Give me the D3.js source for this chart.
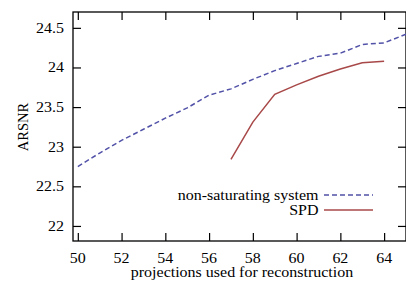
<!DOCTYPE html>
<html>
<head>
<meta charset="utf-8">
<script src="https://cdn.jsdelivr.net/npm/d3@7"></script>
</head>
<body style="margin:0;background:#fff">
<svg id="chart" width="406" height="281"></svg>
<script>
// data
const xTicks = [50, 52, 54, 56, 58, 60, 62, 64];
const yTicks = [22, 22.5, 23, 23.5, 24, 24.5];

const nonSatX = [50, 51, 52, 53, 54, 55, 56, 57, 58, 59, 60, 61, 62, 63, 64, 65];
const nonSatY = [22.75, 22.92, 23.08, 23.22, 23.36, 23.49, 23.65, 23.73, 23.85, 23.96, 24.05, 24.14, 24.18, 24.29, 24.31, 24.42];

const spdX = [57, 58, 59, 60, 61, 62, 63, 64];
const spdY = [22.84, 23.31, 23.66, 23.78, 23.89, 23.98, 24.06, 24.08];

const margin = {left: 73, top: 12, right: 0, bottom: 40};
const width = 406, height = 281;
const FONT = '"Liberation Serif", "Times New Roman", Times, serif';
const blue = '#5252a8', red = '#a84848';

const svg = d3.select('#chart')
    .attr('font-family', FONT)
    .attr('font-size', 16);

// the reference is a bit stretched sideways, so text is squashed vertically
function label (x, y, str, anchor) {
    return svg.append('text')
        .attr('transform', `translate(${x},${y}) scale(1,0.87)`)
        .attr('text-anchor', anchor)
        .attr('fill', '#000')
        .text(str);
}

const x = d3.scaleLinear().domain([49.78, 65]).range([margin.left, width - margin.right]);
const y = d3.scaleLinear().domain([21.81, 24.7]).range([height - margin.bottom, margin.top]);

const tick = 8;

// axes (ticks point inward, mirrored on all four sides)
const axes = [
    [d3.axisBottom(x).tickValues(xTicks), `translate(0,${height - margin.bottom})`],
    [d3.axisTop(x).tickValues(xTicks), `translate(0,${margin.top})`],
    [d3.axisLeft(y).tickValues(yTicks), `translate(${margin.left},0)`],
    [d3.axisRight(y).tickValues(yTicks), `translate(${width - margin.right},0)`]
];
axes.forEach(([ax, tr]) => {
    const g = svg.append('g').attr('transform', tr).call(ax.tickSize(-tick).tickFormat(''));
    g.attr('font-family', null).attr('font-size', null);
    g.select('.domain').remove();
    g.selectAll('text').remove();
    g.selectAll('line').attr('stroke', '#000').attr('stroke-width', 1.2);
});

xTicks.forEach(v => label(x(v), 262.5, d3.format('d')(v), 'middle'));
yTicks.forEach(v => label(64, y(v) + 4.8, v, 'end'));

// frame
svg.append('rect')
    .attr('x', margin.left)
    .attr('y', margin.top)
    .attr('width', width - margin.right - margin.left)
    .attr('height', height - margin.bottom - margin.top)
    .attr('fill', 'none')
    .attr('stroke', '#000')
    .attr('stroke-width', 1.3);

const line = d3.line().x(d => x(d[0])).y(d => y(d[1]));

svg.append('path')
    .attr('d', line(d3.zip(nonSatX, nonSatY)))
    .attr('fill', 'none')
    .attr('stroke', blue)
    .attr('stroke-width', 1.5)
    .attr('stroke-dasharray', '5,3');

svg.append('path')
    .attr('d', line(d3.zip(spdX, spdY)))
    .attr('fill', 'none')
    .attr('stroke', red)
    .attr('stroke-width', 1.5);

// legend
const legend = [
    {label: 'non-saturating system', color: blue, dash: '5,3'},
    {label: 'SPD', color: red, dash: null}
];
legend.forEach((l, i) => {
    const ly = 195 + i * 15;
    label(318.5, ly + 5, l.label, 'end');
    svg.append('line')
        .attr('x1', 324).attr('x2', 373)
        .attr('y1', ly).attr('y2', ly)
        .attr('stroke', l.color)
        .attr('stroke-width', 1.5)
        .attr('stroke-dasharray', l.dash);
});

// axis titles
label(242, 277, 'projections used for reconstruction', 'middle');

svg.append('text')
    .attr('transform', 'translate(28,127) rotate(-90)')
    .attr('text-anchor', 'middle')
    .attr('font-size', 14.5)
    .attr('fill', '#000')
    .text('ARSNR');
</script>
</body>
</html>
